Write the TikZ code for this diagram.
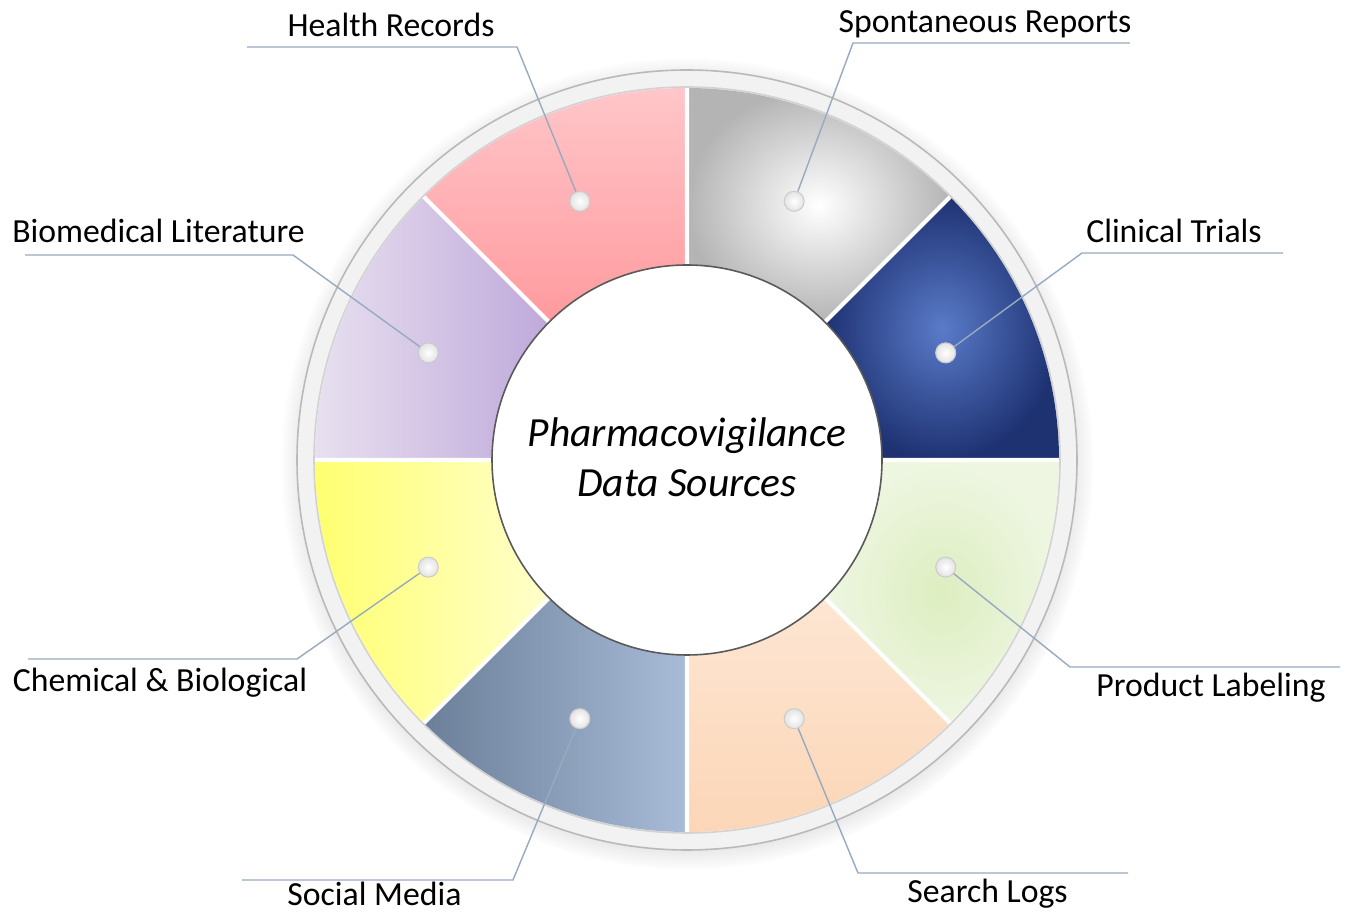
\documentclass[tikz,border=0pt]{standalone}
\usepackage{fontspec}
\setmainfont{Carlito}
\usepackage{xcolor}
\usetikzlibrary{shadows}

\definecolor{clinicalIn}{HTML}{5A7BC9}
\definecolor{clinicalOut}{HTML}{1E3272}
\definecolor{spontOut}{HTML}{B4B4B4}
\definecolor{healthTop}{HTML}{FFC6C9}
\definecolor{healthBottom}{HTML}{FF9A9E}
\definecolor{bioLeft}{HTML}{E8E0F0}
\definecolor{bioRight}{HTML}{BFA9DB}
\definecolor{chemLeft}{HTML}{FFFF70}
\definecolor{chemRight}{HTML}{FFFFCC}
\definecolor{socialLeft}{HTML}{6C7F99}
\definecolor{socialRight}{HTML}{A8BBD7}
\definecolor{searchTop}{HTML}{FDE6D3}
\definecolor{searchBottom}{HTML}{FCD6B7}
\definecolor{productIn}{HTML}{DDEEC0}
\definecolor{productOut}{HTML}{EEF6E2}
\definecolor{leaderblue}{HTML}{97AABF}

\begin{document}
\begin{tikzpicture}[line width=0.45pt,
  leader/.style={draw=leaderblue,line width=0.4pt},
  source/.style={anchor=base,font=\fontsize{9.6}{11.5}\selectfont,text=black},
  dot/.style={circle,minimum size=0.2cm,inner sep=0pt,draw=gray!40,line width=0.3pt,inner color=white,outer color=gray!22},
  gap/.style={draw=white,line width=1.2pt}]

\path[fill=white,use as bounding box] (0,0) rectangle (13.51,9.21);

\coordinate (C) at (6.87,4.61);


% ring
\fill[gray!10,draw=gray!55,circular drop shadow={shadow xshift=0pt,shadow yshift=-1pt,shadow scale=1.04,opacity=0.5}] (C) circle (3.90);
\draw[gray!35] (C) circle (3.73);



\begin{scope}[shift={(C)}]

% 1
\shade[inner color=clinicalIn,outer color=clinicalOut] (0:3.72) arc[start angle=0,end angle=45,radius=3.72] -- (45:1.95) arc[start angle=45,end angle=0,radius=1.95] -- cycle;

% 2
\shade[inner color=white,outer color=spontOut] (45:3.72) arc[start angle=45,end angle=90,radius=3.72] -- (90:1.95) arc[start angle=90,end angle=45,radius=1.95] -- cycle;

% 3
\shade[top color=healthTop,bottom color=healthBottom] (90:3.72) arc[start angle=90,end angle=135,radius=3.72] -- (135:1.95) arc[start angle=135,end angle=90,radius=1.95] -- cycle;

% 4
\shade[left color=bioLeft,right color=bioRight] (135:3.72) arc[start angle=135,end angle=180,radius=3.72] -- (180:1.95) arc[start angle=180,end angle=135,radius=1.95] -- cycle;

% 5
\shade[left color=chemLeft,right color=chemRight] (180:3.72) arc[start angle=180,end angle=225,radius=3.72] -- (225:1.95) arc[start angle=225,end angle=180,radius=1.95] -- cycle;

% 6
\shade[left color=socialLeft,right color=socialRight] (225:3.72) arc[start angle=225,end angle=270,radius=3.72] -- (270:1.95) arc[start angle=270,end angle=225,radius=1.95] -- cycle;

% 7
\shade[top color=searchTop,bottom color=searchBottom] (270:3.72) arc[start angle=270,end angle=315,radius=3.72] -- (315:1.95) arc[start angle=315,end angle=270,radius=1.95] -- cycle;

% 8
\shade[inner color=productIn,outer color=productOut] (315:3.72) arc[start angle=315,end angle=360,radius=3.72] -- (360:1.95) arc[start angle=360,end angle=315,radius=1.95] -- cycle;


\draw[gap] (0:1.95) -- (0:3.72) (45:1.95) -- (45:3.72) (90:1.95) -- (90:3.72) (135:1.95) -- (135:3.72)
(180:1.95) -- (180:3.72) (225:1.95) -- (225:3.72) (270:1.95) -- (270:3.72) (315:1.95) -- (315:3.72);


\node[dot] (DotClinical) at (22.5:2.8) {};
\node[dot] (DotSpont) at (67.5:2.8) {};
\node[dot] (DotHealth) at (112.5:2.8) {};
\node[dot] (DotBio) at (157.5:2.8) {};
\node[dot] (DotChem) at (202.5:2.8) {};
\node[dot] (DotSocial) at (247.5:2.8) {};
\node[dot] (DotSearch) at (292.5:2.8) {};
\node[dot] (DotProduct) at (337.5:2.8) {};

\end{scope}


\draw[fill=white,draw=gray!70!black] (C) circle (1.95);

\node[align=center,font=\itshape\fontsize{11.8}{14.2}\selectfont] (Title) at (6.87,4.64) {Pharmacovigilance\\Data Sources};




% labels
\node[source] (SourceHealth) at (3.91,8.84) {Health Records};
\node[source] (SourceSpont) at (9.85,8.88) {Spontaneous Reports};
\node[source] (SourceBio) at (1.585,6.78) {Biomedical Literature};
\node[source] (SourceClinical) at (11.74,6.78) {Clinical Trials};
\node[source] (SourceChem) at (1.60,2.29) {Chemical \& Biological};
\node[source] (SourceProduct) at (12.11,2.24) {Product Labeling};
\node[source] (SourceSocial) at (3.745,0.15) {Social Media};
\node[source] (SourceSearch) at (9.875,0.18) {Search Logs};

\coordinate (KinkHealth) at (5.17,8.74);   \coordinate (EndHealth) at (2.47,8.74);
\coordinate (KinkSpont) at (8.53,8.78);    \coordinate (EndSpont) at (11.30,8.78);
\coordinate (KinkBio) at (2.93,6.66);      \coordinate (EndBio) at (0.25,6.66);
\coordinate (KinkClinical) at (10.82,6.68); \coordinate (EndClinical) at (12.83,6.68);
\coordinate (KinkChem) at (2.97,2.62);     \coordinate (EndChem) at (0.28,2.62);
\coordinate (KinkProduct) at (10.70,2.54); \coordinate (EndProduct) at (13.40,2.54);
\coordinate (KinkSocial) at (5.13,0.41);   \coordinate (EndSocial) at (2.42,0.41);
\coordinate (KinkSearch) at (8.58,0.48);   \coordinate (EndSearch) at (11.28,0.48);

\draw[leader] (DotHealth) -- (KinkHealth) -- (EndHealth);
\draw[leader] (DotSpont) -- (KinkSpont) -- (EndSpont);
\draw[leader] (DotBio) -- (KinkBio) -- (EndBio);
\draw[leader] (DotClinical) -- (KinkClinical) -- (EndClinical);
\draw[leader] (DotChem) -- (KinkChem) -- (EndChem);
\draw[leader] (DotProduct) -- (KinkProduct) -- (EndProduct);
\draw[leader] (DotSocial) -- (KinkSocial) -- (EndSocial);
\draw[leader] (DotSearch) -- (KinkSearch) -- (EndSearch); % here

\end{tikzpicture}
\end{document}
